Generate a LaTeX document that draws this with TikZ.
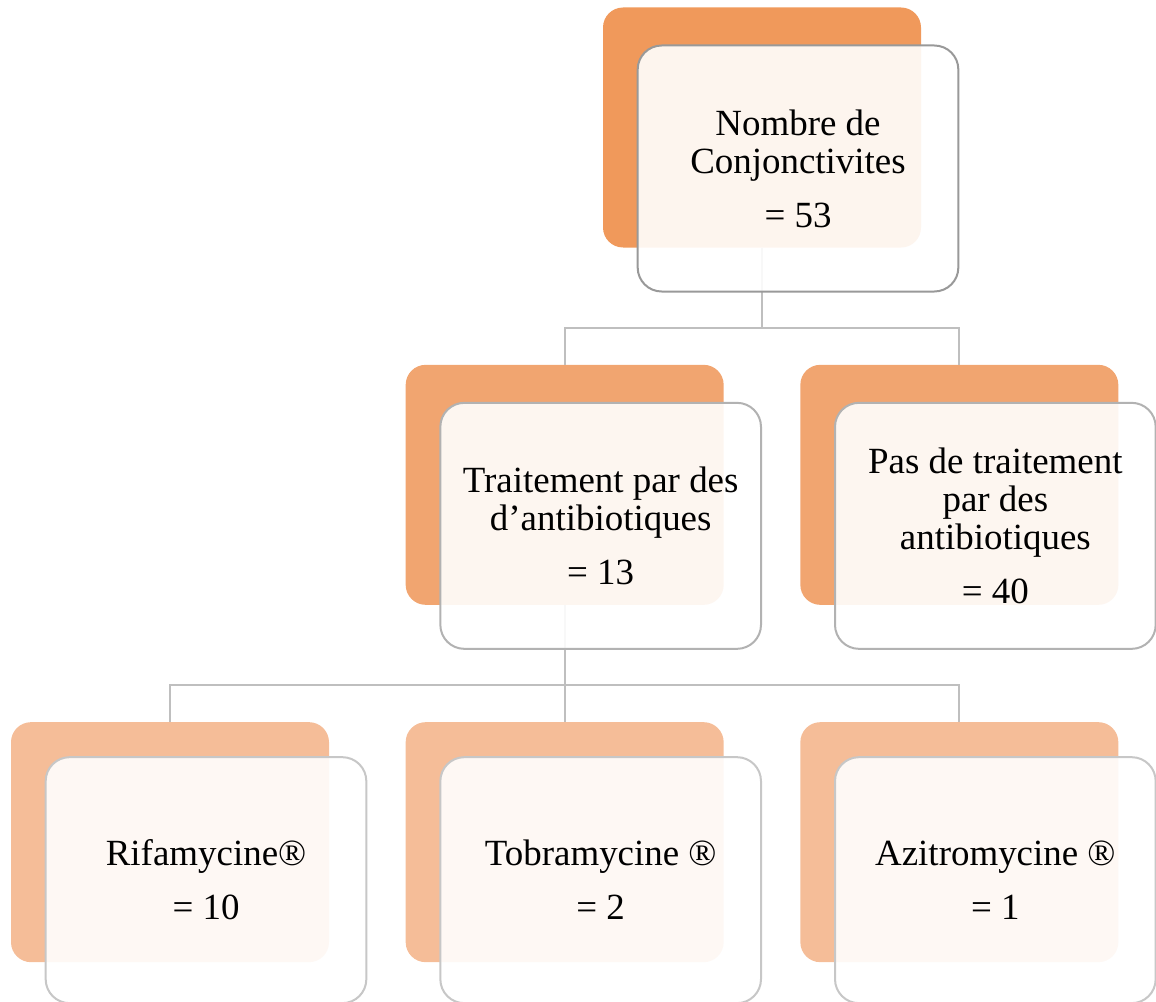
\documentclass[tikz,border=0pt]{standalone}
\usepackage{fontspec}
\setmainfont{Liberation Serif}
\usetikzlibrary{positioning}
\definecolor{orangeA}{HTML}{F0995B}
\definecolor{orangeB}{HTML}{F1A570}
\definecolor{orangeC}{HTML}{F5BD98}
\tikzset{
x=0.75pt,y=0.75pt,
back/.style={rounded corners=15pt,minimum width=238.5pt,minimum height=180pt,inner sep=0pt},
front/.style={line width=1.5pt,rounded corners=18pt,fill=white,fill opacity=0.9,text opacity=1,
  minimum width=240.5pt,minimum height=184.5pt,align=center,inner sep=2pt,
  font=\fontsize{27.7}{28.5}\selectfont},
conn/.style={draw=black!25,line width=1.5pt}
}

\begin{document}
\begin{tikzpicture}[level distance=268pt,
level 1/.style={sibling distance=296pt},level 2/.style={sibling distance=296pt},
edge from parent/.style={conn},
edge from parent path={(\tikzparentnode.south) -- ++(0,-80) -| (\tikzchildnode.north)}]
\useasboundingbox (0,0) rectangle (1156,-1002);

\node[back,fill=orangeA] (top) at (762,-127.5) {}
  child { node[back,fill=orangeB] (trt) {}
    child {node[back,fill=orangeC] (rif) {}}
    child {node[back,fill=orangeC] (tob) {}}
    child {node[back,fill=orangeC] (azi) {}}
  }
  child { node[back,fill=orangeB] (notrt) {} };

% boxes in front
\node[front,draw=black!40] (topbox) at ([shift={(36,-41)}]top) {Nombre de\\Conjonctivites\\[12pt]= 53};
\node[front,draw=black!30] (trtbox) at ([shift={(36,-41)}]trt) {Traitement par des\\d’antibiotiques\\[12pt]= 13};
\node[front,draw=black!30] (notrtbox) at ([shift={(36,-41)}]notrt) {Pas de traitement\\par des\\antibiotiques\\[12pt]= 40};
\node[front,draw=black!22] (rifbox) at ([shift={(36,-38)}]rif) {Rifamycine®\\[12pt]= 10};
\node[front,draw=black!22] (tobbox) at ([shift={(36,-38)}]tob) {Tobramycine ®\\[12pt]= 2};
\node[front,draw=black!22] (azibox) at ([shift={(36,-38)}]azi) {Azitromycine ®\\[12pt]= 1};
\end{tikzpicture}
\end{document}
